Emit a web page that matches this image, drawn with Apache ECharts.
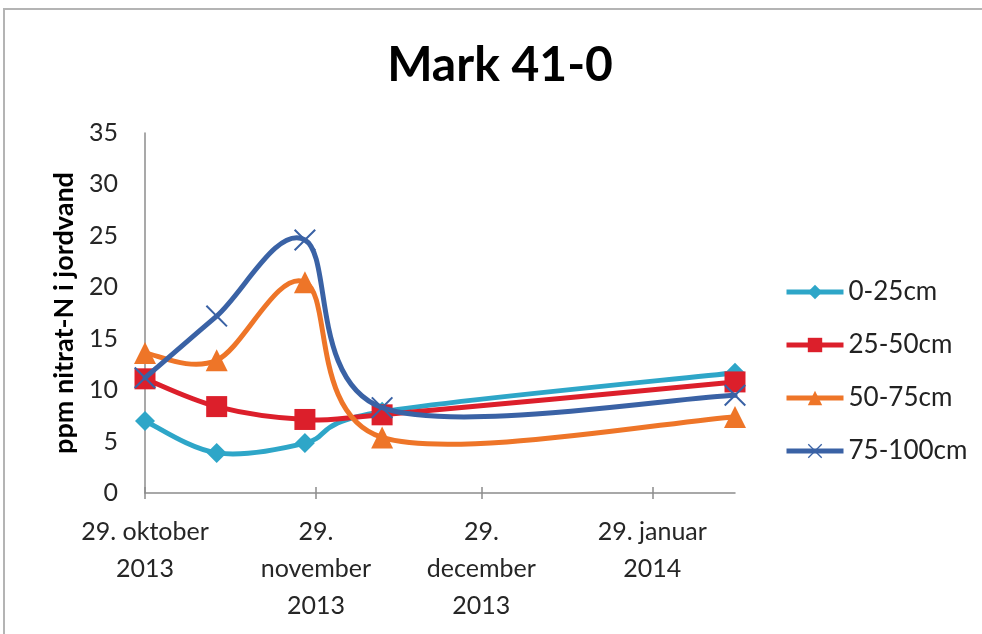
<!DOCTYPE html>
<html>
<head>
<meta charset="utf-8">
<script src="https://cdn.jsdelivr.net/npm/echarts@6/dist/echarts.min.js"></script>
<style>
  html, body { margin: 0; padding: 0; background: #fff; }
  #chart { width: 982px; height: 634px; }
</style>
</head>
<body>
<div id="chart"></div>
<script>
// Sampling dates
const sampleDates = ['2013-10-29', '2013-11-11', '2013-11-27', '2013-12-11', '2014-02-13'];

// Nitrate-N (ppm) in soil water, per depth
const depth0_25 = [7.0, 3.9, 4.85, 7.9, 11.7];
const depth25_50 = [11.1, 8.4, 7.15, 7.6, 10.8];
const depth50_75 = [13.6, 12.9, 20.5, 5.4, 7.4];
const depth75_100 = [11.2, 17.2, 24.6, 8.3, 9.5];

const seriesNames = ['0-25cm', '25-50cm', '50-75cm', '75-100cm'];

// Monthly tick marks on the date axis
const tickDates = ['2013-10-29', '2013-11-29', '2013-12-29', '2014-01-29'];
const tickLabels = ['29. oktober\n2013', '29.\nnovember\n2013', '29.\ndecember\n2013', '29. januar\n2014'];

const axisStart = '2013-10-29';
const axisEnd = '2014-02-13';

// dates are placed on a day-count axis starting at axisStart
function dayNo(s) {
  const p = s.split('-').map(Number);
  const q = axisStart.split('-').map(Number);
  return Math.round((Date.UTC(p[0], p[1] - 1, p[2]) - Date.UTC(q[0], q[1] - 1, q[2])) / 86400000);
}
const tickDays = tickDates.map(dayNo);

function pairs(values) {
  return sampleDates.map((d, i) => [dayNo(d), values[i]]);
}

const FONT = 'Lato';
const xMark = 'path://M0,1.3 L1.3,0 L10,8.7 L18.7,0 L20,1.3 L11.3,10 L20,18.7 L18.7,20 L10,11.3 L1.3,20 L0,18.7 L8.7,10 Z';

const styles = [
  { color: '#2ea6c8', symbol: 'diamond', size: 20 },
  { color: '#dc1f2b', symbol: 'rect', size: 21 },
  { color: '#ee7528', symbol: 'triangle', size: 22 },
  { color: '#3a62a5', symbol: xMark, size: 22 }
];
const values = [depth0_25, depth25_50, depth50_75, depth75_100];

// Smoothed curve through the points (cubic Bezier, Catmull-Rom tangents / 6)
function smoothPath(pts) {
  const n = pts.length;
  let d = 'M' + pts[0][0] + ',' + pts[0][1];
  for (let i = 0; i < n - 1; i++) {
    const p0 = pts[Math.max(i - 1, 0)];
    const p1 = pts[i];
    const p2 = pts[i + 1];
    const p3 = pts[Math.min(i + 2, n - 1)];
    const c1x = p1[0] + (p2[0] - p0[0]) / 6;
    const c1y = p1[1] + (p2[1] - p0[1]) / 6;
    const c2x = p2[0] - (p3[0] - p1[0]) / 6;
    const c2y = p2[1] - (p3[1] - p1[1]) / 6;
    d += ' C' + c1x + ',' + c1y + ' ' + c2x + ',' + c2y + ' ' + p2[0] + ',' + p2[1];
  }
  return d;
}

function curveRenderer(seriesIdx) {
  return function (params, api) {
    if (params.dataIndex !== 0) return null;
    const pts = pairs(values[seriesIdx]).map(p => api.coord(p));
    return {
      type: 'path',
      shape: { pathData: smoothPath(pts) },
      style: { fill: null, stroke: styles[seriesIdx].color, lineWidth: 5, lineJoin: 'round', lineCap: 'round' },
      silent: true
    };
  };
}

const chart = echarts.init(document.getElementById('chart'), null, { renderer: 'canvas' });

const tickLine = { color: '#8c8c8c', width: 1.5 };

// markers (and legend entries) per depth
const markerSeries = values.map((vals, i) => ({
  name: seriesNames[i],
  type: 'line',
  xAxisIndex: 0,
  data: pairs(vals),
  symbol: styles[i].symbol,
  symbolSize: styles[i].size,
  showAllSymbol: true,
  z: 11 + 2 * i,
  lineStyle: { color: styles[i].color, width: 5, opacity: 0 },
  itemStyle: { color: styles[i].color, borderWidth: 0 },
  emphasis: { disabled: true }
}));

// smoothed lines per depth
const curveSeries = values.map((vals, i) => ({
  name: seriesNames[i] + ' linje',
  type: 'custom',
  xAxisIndex: 0,
  data: pairs(vals),
  encode: { x: 0, y: 1 },
  z: 10 + 2 * i,
  renderItem: curveRenderer(i),
  silent: true
}));

const option = {
  backgroundColor: '#ffffff',
  animation: false,
  title: {
    text: 'Mark 41-0',
    left: 495,
    top: 37,
    textAlign: 'center',
    textStyle: { fontFamily: FONT, fontWeight: 'bold', fontSize: 48, color: '#000' }
  },
  legend: {
    orient: 'vertical',
    left: 779,
    top: 274,
    itemWidth: 57,
    itemHeight: 18,
    itemGap: 27,
    data: seriesNames,
    lineStyle: { width: 5, opacity: 1 },
    textStyle: { fontFamily: FONT, fontSize: 26, color: '#222' }
  },
  grid: { left: 145, right: 247, top: 133, bottom: 141, containLabel: false },
  xAxis: [
    {
      type: 'value',
      min: dayNo(axisStart),
      max: dayNo(axisEnd),
      axisLine: { show: true, onZero: false, lineStyle: tickLine },
      axisTick: { show: true, customValues: tickDays, length: 6, lineStyle: tickLine },
      axisLabel: {
        customValues: tickDays,
        hideOverlap: false,
        showMinLabel: true,
        showMaxLabel: true,
        margin: 20,
        fontFamily: FONT,
        fontSize: 25,
        lineHeight: 37,
        color: '#262626',
        align: 'center',
        formatter: function (v) {
          const i = tickDays.indexOf(Math.round(v));
          return i >= 0 ? tickLabels[i] : '';
        }
      },
      splitLine: { show: false }
    },
    {
      // inner half of the cross tick marks
      type: 'value',
      position: 'bottom',
      min: dayNo(axisStart),
      max: dayNo(axisEnd),
      axisLine: { show: false, onZero: false },
      axisTick: { show: true, inside: true, customValues: tickDays, length: 6, lineStyle: tickLine },
      axisLabel: { show: false },
      splitLine: { show: false }
    }
  ],
  yAxis: {
    type: 'value',
    min: 0,
    max: 35,
    interval: 5,
    name: 'ppm nitrat-N i jordvand',
    nameLocation: 'middle',
    nameGap: 66,
    nameRotate: 90,
    nameTextStyle: { fontFamily: FONT, fontWeight: 'bold', fontSize: 27, color: '#000' },
    axisLine: { show: true, lineStyle: tickLine },
    axisTick: { show: false },
    axisLabel: { margin: 27, fontFamily: FONT, fontSize: 25, color: '#262626' },
    splitLine: { show: false }
  },
  series: markerSeries.concat(curveSeries),
  graphic: [
    {
      type: 'rect',
      shape: { x: 4, y: 9, width: 1000, height: 700 },
      style: { fill: null, stroke: '#b4b4b4', lineWidth: 2 },
      silent: true,
      z: -1
    }
  ]
};

chart.setOption(option);
</script>
</body>
</html>
